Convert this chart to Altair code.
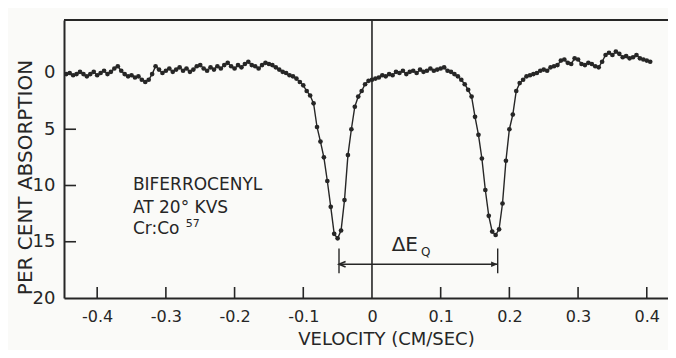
import altair as alt
import pandas as pd

VELOCITY = [
    -0.445, -0.440, -0.435, -0.430, -0.425, -0.420, -0.415, -0.410, -0.405, -0.400,
    -0.395, -0.390, -0.385, -0.380, -0.375, -0.370, -0.365, -0.360, -0.355, -0.350,
    -0.345, -0.340, -0.335, -0.330, -0.325, -0.320, -0.315, -0.310, -0.305, -0.300,
    -0.295, -0.290, -0.285, -0.280, -0.275, -0.270, -0.265, -0.260, -0.255, -0.250,
    -0.245, -0.240, -0.235, -0.230, -0.225, -0.220, -0.215, -0.210, -0.205, -0.200,
    -0.195, -0.190, -0.185, -0.180, -0.175, -0.170, -0.165, -0.160, -0.155, -0.150,
    -0.145, -0.140, -0.135, -0.130, -0.125, -0.120, -0.115, -0.110, -0.105, -0.100,
    -0.095, -0.090, -0.085, -0.080, -0.075, -0.070, -0.065, -0.060, -0.055, -0.050,
    -0.045, -0.040, -0.035, -0.030, -0.025, -0.020, -0.015, -0.010, -0.005, 0.000,
    0.005, 0.010, 0.015, 0.020, 0.025, 0.030, 0.035, 0.040, 0.045, 0.050,
    0.055, 0.060, 0.065, 0.070, 0.075, 0.080, 0.085, 0.090, 0.095, 0.100,
    0.105, 0.110, 0.115, 0.120, 0.125, 0.130, 0.135, 0.140, 0.145, 0.150,
    0.155, 0.160, 0.165, 0.170, 0.175, 0.180, 0.185, 0.190, 0.195, 0.200,
    0.205, 0.210, 0.215, 0.220, 0.225, 0.230, 0.235, 0.240, 0.245, 0.250,
    0.255, 0.260, 0.265, 0.270, 0.275, 0.280, 0.285, 0.290, 0.295, 0.300,
    0.305, 0.310, 0.315, 0.320, 0.325, 0.330, 0.335, 0.340, 0.345, 0.350,
    0.355, 0.360, 0.365, 0.370, 0.375, 0.380, 0.385, 0.390, 0.395, 0.400,
    0.405,
]

ABSORPTION = [
    0.1, 0.0, 0.2, 0.1, -0.1, 0.1, 0.3, 0.1, -0.1, 0.2,
    0.0, -0.2, 0.1, -0.1, -0.4, -0.6, -0.2, 0.1, 0.3, 0.2,
    0.4, 0.3, 0.6, 0.8, 0.6, 0.1, -0.6, -0.3, 0.0, -0.2,
    -0.4, -0.1, -0.3, -0.5, -0.2, -0.4, -0.1, -0.3, -0.6, -0.7,
    -0.4, -0.2, -0.5, -0.3, -0.6, -0.4, -0.7, -0.9, -0.6, -0.4,
    -0.7, -0.5, -0.8, -1.0, -0.7, -0.6, -0.4, -0.7, -0.9, -0.8,
    -0.7, -0.5, -0.3, -0.1, 0.0, 0.2, 0.3, 0.5, 0.8, 1.1,
    1.6, 2.0, 2.7, 4.8, 6.1, 7.5, 9.6, 11.9, 14.3, 14.7,
    14.0, 11.3, 7.3, 5.0, 3.0, 2.1, 1.6, 1.0, 0.7, 0.6,
    0.5, 0.4, 0.2, 0.3, 0.1, 0.2, -0.1, 0.0, -0.2, 0.1,
    -0.1, -0.2, 0.0, -0.3, -0.1, -0.2, -0.4, -0.2, -0.3, -0.4,
    -0.5, -0.2, -0.1, 0.1, 0.3, 0.6, 1.0, 1.5, 2.1, 3.9,
    5.5, 7.6, 10.4, 12.7, 14.1, 14.4, 13.9, 11.6, 7.8, 5.0,
    3.7, 1.6, 0.9, 0.6, 0.3, 0.2, 0.1, 0.0, -0.2, -0.3,
    -0.2, -0.5, -0.6, -0.7, -1.1, -1.2, -0.9, -0.8, -1.3, -1.2,
    -0.8, -0.7, -0.9, -0.8, -0.6, -0.5, -1.0, -1.6, -1.8, -1.6,
    -1.9, -1.7, -1.4, -1.5, -1.3, -1.4, -1.6, -1.3, -1.2, -1.1,
    -1.0,
]

X_TICKS = [-0.4, -0.3, -0.2, -0.1, 0.0, 0.1, 0.2, 0.3, 0.4]
Y_TICKS = [0, 5, 10, 15, 20]
INNER_X_TICKS = [-0.4, -0.3, -0.2, -0.1, 0.1, 0.2, 0.3, 0.4]
INNER_Y_TICKS = [5, 10, 15]

X_DOMAIN = [-0.4483, 0.4309]
Y_DOMAIN = [-4.71, 20]

ANNOT_LINES = ["BIFERROCENYL", "AT 20° KVS", "Cr:Co"]
ANNOT_V = [-0.348, -0.348, -0.348]
ANNOT_A = [9.95, 12.0, 13.85]
SUPER_TEXT = ["57"]
SUPER_V = [-0.271]
SUPER_A = [13.45]

DEQ_LEFT = -0.048
DEQ_RIGHT = 0.183
DEQ_LEVEL = 17.0
DEQ_TICK_TOP = 15.6
DEQ_TICK_BOTTOM = 17.8
DEQ_LABEL = ["ΔE"]
DEQ_LABEL_V = [0.067]
DEQ_LABEL_A = [15.3]
DEQ_SUB = ["Q"]
DEQ_SUB_V = [0.0715]
DEQ_SUB_A = [15.95]

W, H = 604, 278
INK = "#262626"
FONT = "DejaVu Sans"

xs = alt.Scale(domain=X_DOMAIN, nice=False, zero=False)
ys = alt.Scale(domain=Y_DOMAIN, reverse=True, nice=False, zero=False)

df = pd.DataFrame({"v": VELOCITY, "a": ABSORPTION})

x_axis = alt.Axis(
    values=X_TICKS,
    labelExpr="datum.value == 0 ? '0' : (datum.value < 0 ? '-' : '') + format(abs(datum.value), '.1f')",
    tickSize=0, grid=False, domainColor=INK, domainWidth=2,
    labelFont=FONT, labelFontSize=16, labelColor=INK, labelPadding=10,
    title="VELOCITY (CM/SEC)", titleFont=FONT, titleFontSize=18,
    titleFontWeight="normal", titleColor=INK, titleX=322, titleY=46,
    titleAlign="center", titleBaseline="alphabetic", titleAnchor="start",
)
y_axis = alt.Axis(
    values=Y_TICKS, tickSize=0, grid=False, domainColor=INK, domainWidth=2,
    labelFont=FONT, labelFontSize=18, labelColor=INK, labelPadding=9,
    title="PER CENT ABSORPTION", titleFont=FONT, titleFontSize=20,
    titleFontWeight="normal", titleColor=INK, titleAngle=270, titleX=-39,
    titleY=157, titleAlign="center", titleBaseline="middle", titleAnchor="start",
)


def X(field="v"):
    return alt.X(f"{field}:Q", scale=xs, axis=x_axis, title="VELOCITY (CM/SEC)")


def Y(field="a"):
    return alt.Y(f"{field}:Q", scale=ys, axis=y_axis, title="PER CENT ABSORPTION")


line = alt.Chart(df).mark_line(color=INK, strokeWidth=1.4).encode(x=X(), y=Y())
pts = alt.Chart(df).mark_circle(color=INK, size=22, opacity=1).encode(x=X(), y=Y())

zero_line = alt.Chart(pd.DataFrame({"v": [0.0]})).mark_rule(color=INK, strokeWidth=1.6).encode(
    x=X(), y=alt.value(0), y2=alt.value(H)
)
top_line = alt.Chart(pd.DataFrame({"v": [0.0]})).mark_rule(color=INK, strokeWidth=2).encode(
    x=alt.value(0), x2=alt.value(W), y=alt.value(0)
)
xt = alt.Chart(pd.DataFrame({"v": INNER_X_TICKS})).mark_rule(color=INK, strokeWidth=1.6).encode(
    x=X(), y=alt.value(H), y2=alt.value(H - 11)
)
yt = alt.Chart(pd.DataFrame({"a": INNER_Y_TICKS})).mark_rule(color=INK, strokeWidth=1.6).encode(
    y=Y(), x=alt.value(0), x2=alt.value(12)
)

arrow_df = pd.DataFrame({"v": [DEQ_LEFT], "v2": [DEQ_RIGHT], "a": [DEQ_LEVEL]})
arrow = alt.Chart(arrow_df).mark_rule(color=INK, strokeWidth=1.4).encode(
    x=X(), x2="v2:Q", y=Y()
)
ends_df = pd.DataFrame({"v": [DEQ_LEFT, DEQ_RIGHT], "a": [DEQ_TICK_TOP] * 2, "a2": [DEQ_TICK_BOTTOM] * 2})
ends = alt.Chart(ends_df).mark_rule(color=INK, strokeWidth=1.4).encode(
    x=X(), y=Y(), y2="a2:Q"
)
head_l = alt.Chart(pd.DataFrame({"v": [DEQ_LEFT], "a": [DEQ_LEVEL]})).mark_point(
    shape="M2.2,-0.9L0,0L2.2,0.9", filled=False, color=INK, strokeWidth=1.6, size=36, opacity=1
).encode(x=X(), y=Y())
head_r = alt.Chart(pd.DataFrame({"v": [DEQ_RIGHT], "a": [DEQ_LEVEL]})).mark_point(
    shape="M-2.2,-0.9L0,0L-2.2,0.9Z", filled=True, color=INK, size=36, opacity=1
).encode(x=X(), y=Y())

annot = alt.Chart(pd.DataFrame({"v": ANNOT_V, "a": ANNOT_A, "t": ANNOT_LINES})).mark_text(
    align="left", baseline="middle", font=FONT, fontSize=17, color=INK
).encode(x=X(), y=Y(), text="t:N")
sup = alt.Chart(pd.DataFrame({"v": SUPER_V, "a": SUPER_A, "t": SUPER_TEXT})).mark_text(
    align="left", baseline="middle", font=FONT, fontSize=11, color=INK
).encode(x=X(), y=Y(), text="t:N")
deq = alt.Chart(pd.DataFrame({"v": DEQ_LABEL_V, "a": DEQ_LABEL_A, "t": DEQ_LABEL})).mark_text(
    align="right", baseline="middle", font=FONT, fontSize=20, color=INK
).encode(x=X(), y=Y(), text="t:N")
deq_sub = alt.Chart(pd.DataFrame({"v": DEQ_SUB_V, "a": DEQ_SUB_A, "t": DEQ_SUB})).mark_text(
    align="left", baseline="middle", font=FONT, fontSize=12, color=INK
).encode(x=X(), y=Y(), text="t:N")

chart = alt.layer(
    line, pts, zero_line, top_line, xt, yt, arrow, ends, head_l, head_r,
    annot, sup, deq, deq_sub,
).properties(
    width=W, height=H,
    autosize=alt.AutoSizeParams(type="none"),
    padding={"left": 56, "top": 12, "right": 0, "bottom": 52},
    background="#fafaf8",
).configure_view(stroke=None)

chart.save("out.html", embed_options={"renderer": "svg", "actions": False})
